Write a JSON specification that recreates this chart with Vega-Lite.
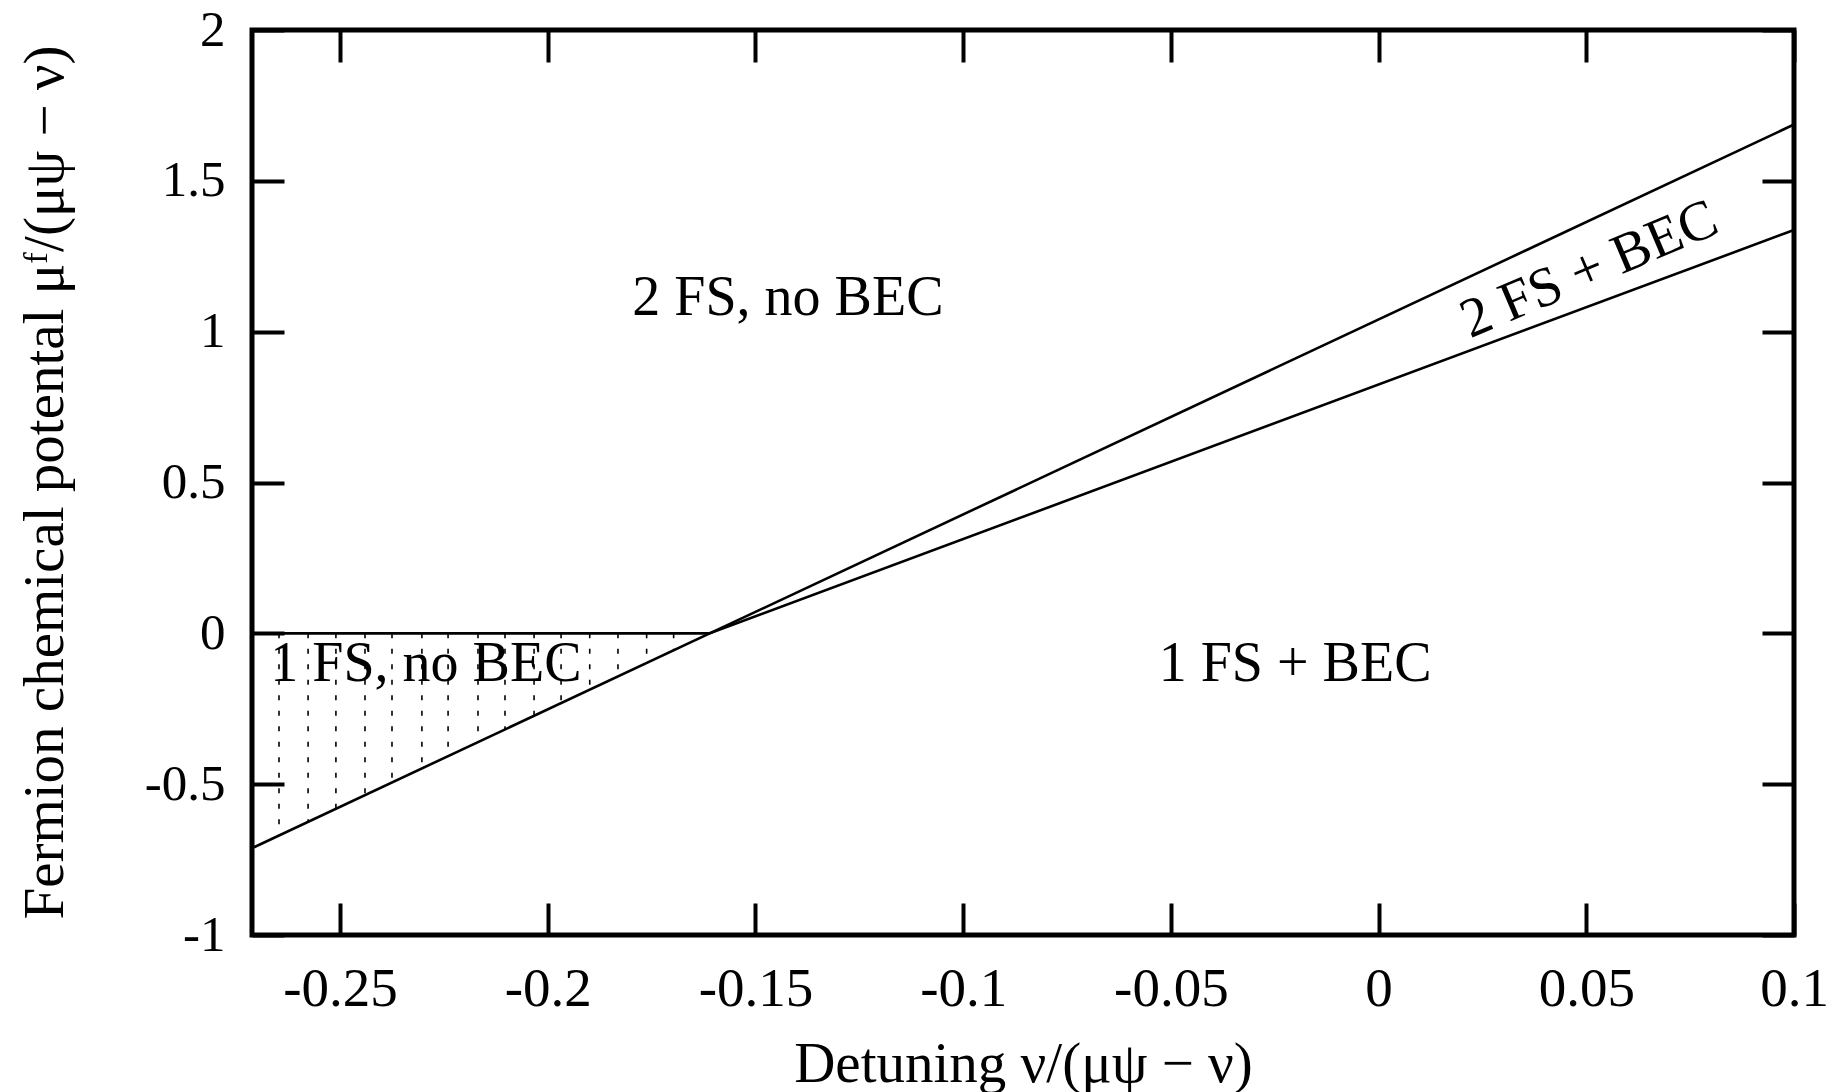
{
  "$schema": "https://vega.github.io/schema/vega-lite/v6.json",
  "width": 1542,
  "height": 905,
  "autosize": {"type": "none"},
  "padding": {"left": 252, "top": 30, "right": 43, "bottom": 157},
  "background": "white",
  "config": {
    "view": {"stroke": "black", "strokeWidth": 5},
    "axis": {
      "domain": false,
      "grid": false,
      "tickColor": "black",
      "tickWidth": 4,
      "tickSize": -32,
      "labelFont": "Liberation Serif",
      "labelFontSize": 51,
      "labelColor": "black",
      "labelFlush": false,
      "labelOverlap": false,
      "titleFont": "Liberation Serif",
      "titleFontSize": 57,
      "titleFontWeight": "normal",
      "titleColor": "black"
    },
    "text": {"font": "Liberation Serif", "fontSize": 56, "color": "black"}
  },
  "datasets": {
    "boundaries": [
      {"series": "steep", "nu": -0.2712, "mu": -0.7121},
      {"series": "steep", "nu": 0.1, "mu": 1.6866},
      {"series": "shallow", "nu": -0.161, "mu": 0},
      {"series": "shallow", "nu": 0.1, "mu": 1.337},
      {"series": "zero", "nu": -0.2712, "mu": 0},
      {"series": "zero", "nu": -0.161, "mu": 0}
    ],
    "hatch": [
      {"nu": -0.2647, "top": 0, "bottom": -0.6701},
      {"nu": -0.2577, "top": 0, "bottom": -0.6249},
      {"nu": -0.2510, "top": 0, "bottom": -0.5816},
      {"nu": -0.2440, "top": 0, "bottom": -0.5363},
      {"nu": -0.2375, "top": 0, "bottom": -0.4943},
      {"nu": -0.2303, "top": 0, "bottom": -0.4478},
      {"nu": -0.2240, "top": 0, "bottom": -0.4071},
      {"nu": -0.2168, "top": 0, "bottom": -0.3606},
      {"nu": -0.2103, "top": 0, "bottom": -0.3186},
      {"nu": -0.2033, "top": 0, "bottom": -0.2733},
      {"nu": -0.1968, "top": 0, "bottom": -0.2313},
      {"nu": -0.1899, "top": 0, "bottom": -0.1868},
      {"nu": -0.1831, "top": 0, "bottom": -0.1428},
      {"nu": -0.1762, "top": 0, "bottom": -0.0982},
      {"nu": -0.1697, "top": 0, "bottom": -0.0562}
    ],
    "labelsCenter": [
      {"label": "2 FS, no BEC", "nu": -0.1422, "mu": 1.113},
      {"label": "1 FS + BEC", "nu": -0.0201, "mu": -0.1017}
    ],
    "labelsLeft": [
      {"label": "1 FS, no BEC", "nu": -0.2668, "mu": -0.1017}
    ],
    "labelsRot": [
      {"label": "2 FS + BEC", "nu": 0.0507, "mu": 1.206}
    ]
  },
  "layer": [
    {
      "data": {"name": "hatch"},
      "mark": {"type": "rule", "color": "black", "strokeWidth": 1.6, "strokeDash": [5, 10.5]},
      "encoding": {
        "x": {
          "field": "nu", "type": "quantitative",
          "scale": {"domain": [-0.2712, 0.1], "nice": false, "zero": false},
          "axis": {"orient": "top", "labels": false, "title": null,
                   "values": [-0.25, -0.2, -0.15, -0.1, -0.05, 0, 0.05, 0.1]}
        },
        "y": {
          "field": "top", "type": "quantitative",
          "scale": {"domain": [-1, 2], "nice": false, "zero": false},
          "axis": {"orient": "right", "labels": false, "title": null,
                   "values": [-1, -0.5, 0, 0.5, 1, 1.5, 2]}
        },
        "y2": {"field": "bottom"}
      }
    },
    {
      "data": {"name": "boundaries"},
      "mark": {"type": "line", "color": "black", "strokeWidth": 2.6},
      "encoding": {
        "x": {
          "field": "nu", "type": "quantitative",
          "scale": {"domain": [-0.2712, 0.1], "nice": false, "zero": false},
          "axis": {
            "orient": "bottom",
            "values": [-0.25, -0.2, -0.15, -0.1, -0.05, 0, 0.05, 0.1],
            "labelExpr": "'' + datum.value",
            "labelFontSize": 55,
            "labelPadding": 59,
            "title": "Detuning ν/(μψ − ν)",
            "titleX": 771,
            "titleY": 129,
            "titleBaseline": "middle"
          }
        },
        "y": {
          "field": "mu", "type": "quantitative",
          "scale": {"domain": [-1, 2], "nice": false, "zero": false},
          "axis": {
            "orient": "left",
            "values": [-1, -0.5, 0, 0.5, 1, 1.5, 2],
            "labelExpr": "'' + datum.value",
            "labelPadding": 59,
            "title": "Fermion chemical potental μᶠ/(μψ − ν)",
            "titleX": -207,
            "titleY": 452,
            "titleBaseline": "middle"
          }
        },
        "detail": {"field": "series"}
      }
    },
    {
      "data": {"name": "labelsCenter"},
      "mark": {"type": "text", "align": "center", "baseline": "middle"},
      "encoding": {
        "x": {"field": "nu", "type": "quantitative", "axis": null},
        "y": {"field": "mu", "type": "quantitative", "axis": null},
        "text": {"field": "label"}
      }
    },
    {
      "data": {"name": "labelsLeft"},
      "mark": {"type": "text", "align": "left", "baseline": "middle"},
      "encoding": {
        "x": {"field": "nu", "type": "quantitative", "axis": null},
        "y": {"field": "mu", "type": "quantitative", "axis": null},
        "text": {"field": "label"}
      }
    },
    {
      "data": {"name": "labelsRot"},
      "mark": {"type": "text", "align": "center", "baseline": "middle", "angle": 337},
      "encoding": {
        "x": {"field": "nu", "type": "quantitative", "axis": null},
        "y": {"field": "mu", "type": "quantitative", "axis": null},
        "text": {"field": "label"}
      }
    }
  ],
  "resolve": {"axis": {"x": "independent", "y": "independent"}}
}
